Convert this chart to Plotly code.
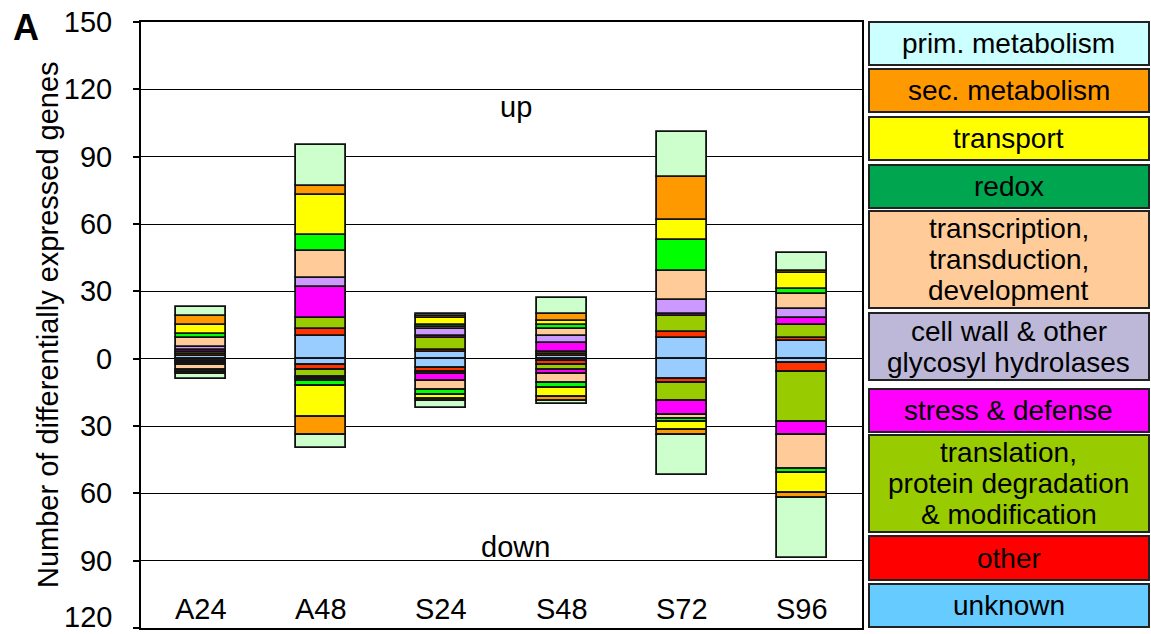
import plotly.graph_objects as go

# Samples along the x axis
samples = ["A24", "A48", "S24", "S48", "S72", "S96"]

# Functional groups, listed from the zero line outwards
groups = ["unknown", "other", "translation", "stress", "cell wall",
          "transcription", "redox", "transport", "sec. metabolism", "prim. metabolism"]

# Up-regulated gene counts per group (order of `samples`)
up_unknown       = [1, 10, 3, 1, 9, 8]
up_other         = [1, 3, 1, 1, 3, 1]
up_translation   = [1, 5, 5, 1, 7, 6]
up_stress        = [1, 14, 1, 4, 1, 3]
up_cellwall      = [1, 4, 3, 3, 6, 4]
up_transcription = [4, 12, 1, 3, 13, 7]
up_redox         = [2, 7, 1, 2, 14, 2]
up_transport     = [4, 18, 3, 2, 9, 7]
up_secmet        = [4, 4, 1, 3, 19, 1]
up_primmet       = [4, 18, 1, 7, 20, 8]

# Down-regulated gene counts per group
down_unknown       = [1, 3, 4, 1, 9, 2]
down_other         = [1, 2, 2, 2, 2, 4]
down_translation   = [1, 3, 1, 2, 8, 22]
down_stress        = [0, 1, 3, 2, 6, 6]
down_cellwall      = [0, 0, 0, 0, 0, 0]
down_transcription = [2, 1, 4, 4, 2, 15]
down_redox         = [0, 2, 2, 2, 1, 2]
down_transport     = [1, 14, 2, 4, 4, 9]
down_secmet        = [1, 8, 1, 2, 2, 2]
down_primmet       = [2, 6, 3, 1, 18, 27]

up_counts = [up_unknown, up_other, up_translation, up_stress, up_cellwall,
             up_transcription, up_redox, up_transport, up_secmet, up_primmet]
down_counts = [down_unknown, down_other, down_translation, down_stress, down_cellwall,
               down_transcription, down_redox, down_transport, down_secmet, down_primmet]

bar_colors = ["#99ccff", "#ff3300", "#99cc00", "#ff00ff", "#cc99ff",
              "#ffcc99", "#00ff00", "#ffff00", "#ff9900", "#ccffcc"]

# Key panel (top to bottom); each entry is a list of text lines
key_labels = [["prim. metabolism"], ["sec. metabolism"], ["transport"], ["redox"],
              ["transcription,", "transduction,", "development"],
              ["cell wall & other", "glycosyl hydrolases"], ["stress & defense"],
              ["translation,", "protein degradation", "& modification"], ["other"], ["unknown"]]
key_colors = ["#ccffff", "#ff9900", "#ffff00", "#00a550", "#ffcc99",
              "#bdb8d8", "#ff00ff", "#99cc00", "#ff0000", "#66ccff"]

y_ticks = [-120, -90, -60, -30, 0, 30, 60, 90, 120, 150]

FONT = "Liberation Sans, Arial, sans-serif"
W, H = 1151, 634
L, R, T, B = 141, 289, 22, 6
PW, PH = W - L - R, H - T - B


def px_x(px):
    return (px - L) / PW


def px_y(py):
    return (H - B - py) / PH


def nz(v):
    return [c if c else None for c in v]


fig = go.Figure()
xpos = list(range(len(samples)))
edge = dict(color="#111111", width=1.8)

for name, vals, col in zip(groups, up_counts, bar_colors):
    fig.add_trace(go.Bar(x=xpos, y=nz(vals), name=name, marker=dict(color=col, line=edge),
                         width=0.415, showlegend=False))
for name, vals, col in zip(groups, down_counts, bar_colors):
    fig.add_trace(go.Bar(x=xpos, y=nz([-v for v in vals]), name=name,
                         marker=dict(color=col, line=edge), width=0.415, showlegend=False))

annotations = []
for i, s in enumerate(samples):
    annotations.append(dict(x=i, y=-111.5, xref="x", yref="y", text=s, showarrow=False,
                            font=dict(family=FONT, size=29, color="black")))
annotations.append(dict(x=2.62, y=112, xref="x", yref="y", text="up", showarrow=False,
                        font=dict(family=FONT, size=29, color="black")))
annotations.append(dict(x=2.62, y=-84, xref="x", yref="y", text="down", showarrow=False,
                        font=dict(family=FONT, size=29, color="black")))
annotations.append(dict(x=px_x(48), y=0.5, xref="paper", yref="paper", textangle=-90,
                        text="Number of differentially expressed genes", showarrow=False,
                        xanchor="center", yanchor="middle",
                        font=dict(family=FONT, size=29, color="black")))
annotations.append(dict(x=px_x(26), y=px_y(27), xref="paper", yref="paper", text="<b>A</b>",
                        showarrow=False, xanchor="center", yanchor="middle",
                        font=dict(family=FONT, size=36, color="black")))
# bottom tick label, lifted so it stays on the page
annotations.append(dict(x=px_x(114), y=px_y(635), xref="paper", yref="paper",
                        text=str(abs(y_ticks[0])), showarrow=False,
                        xanchor="right", yanchor="bottom",
                        font=dict(family=FONT, size=29, color="black")))

# Key boxes, pixel extents of each box
key_tops = [22, 69, 117, 165, 211, 313, 389, 435, 536, 584]
key_bottoms = [65, 112, 160, 208, 308, 380, 432, 532, 580, 627]
LINE_STEP = 31
shapes = []
for lines, col, t, b in zip(key_labels, key_colors, key_tops, key_bottoms):
    shapes.append(dict(type="rect", xref="paper", yref="paper",
                       x0=px_x(869), x1=px_x(1149), y0=px_y(b), y1=px_y(t),
                       fillcolor=col, line=dict(color="#222222", width=2), layer="above"))
    mid = (t + b) / 2
    n = len(lines)
    for k, line in enumerate(lines):
        cy = mid + (k - (n - 1) / 2) * LINE_STEP
        annotations.append(dict(x=px_x(1009), y=px_y(cy), xref="paper", yref="paper",
                                text=line, showarrow=False, xanchor="center", yanchor="middle",
                                font=dict(family=FONT, size=28, color="black")))

fig.update_layout(
    width=W, height=H,
    margin=dict(l=L, r=R, t=T, b=B, pad=0),
    barmode="relative",
    bargap=0,
    plot_bgcolor="white", paper_bgcolor="white",
    xaxis=dict(range=[-0.5, len(samples) - 0.5], showticklabels=False, ticks="",
               showgrid=False, zeroline=False, showline=True, mirror=True,
               linecolor="black", linewidth=1.5),
    yaxis=dict(range=[-120, 150], tickvals=y_ticks, ticktext=[str(abs(v)) for v in y_ticks],
               tickfont=dict(family=FONT, size=29, color="black"),
               ticks="outside", ticklen=6, tickcolor="black", tickwidth=1.5,
               ticklabelstandoff=15,
               showgrid=True, gridcolor="black", gridwidth=1,
               zeroline=True, zerolinecolor="black", zerolinewidth=1,
               showline=True, mirror=True, linecolor="black", linewidth=2),
    annotations=annotations,
    shapes=shapes,
)

fig.write_html("out.html")
